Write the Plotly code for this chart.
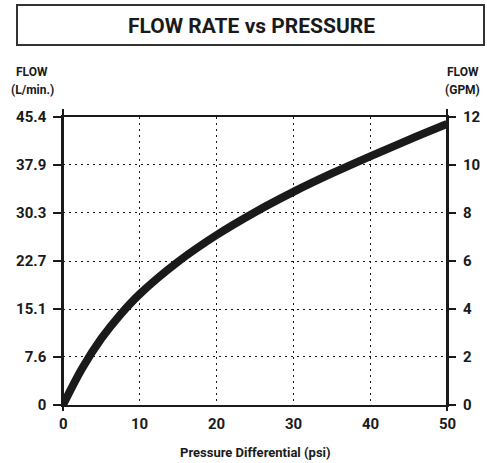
import plotly.graph_objects as go

# Data
psi = [0, 2.5, 5, 7.5, 10, 15, 20, 25, 30, 35, 40, 45, 50]
flow_lpm = [0, 5.8, 10.5, 14.3, 17.5, 22.6, 26.8, 30.4, 33.6, 36.5, 39.2, 41.8, 44.3]
x_ticks = [0, 10, 20, 30, 40, 50]
x_labels = ["0", "10", "20", "30", "40", "50"]
lpm_ticks = [0, 7.6, 15.1, 22.7, 30.3, 37.9, 45.4]
lpm_labels = ["0", "7.6", "15.1", "22.7", "30.3", "37.9", "45.4"]
gpm_ticks = [0, 2, 4, 6, 8, 10, 12]
GPM_MAX = 12

FONT = "Roboto, Liberation Sans, sans-serif"
INK = "#1a1a1a"
BOLD = "bold"

fig = go.Figure()
fig.add_trace(go.Scatter(x=psi, y=flow_lpm, mode="lines",
                         line=dict(color=INK, width=8, shape="spline", smoothing=1.0),
                         showlegend=False, hoverinfo="skip"))
# invisible trace to activate the right axis
fig.add_trace(go.Scatter(x=[0], y=[0], yaxis="y2", mode="markers",
                         marker=dict(opacity=0), showlegend=False, hoverinfo="skip"))

L, R, T, B = 63, 40, 117, 58
W, H = 487, 463
pw, ph = W - L - R, H - T - B

def px(p):
    return (p - L) / pw

def py(q):
    return (H - B - q) / ph

tickfont = dict(size=15, family=FONT, weight=BOLD, color=INK)

fig.update_layout(
    width=W, height=H,
    margin=dict(l=L, r=R, t=T, b=B, autoexpand=False),
    paper_bgcolor="white", plot_bgcolor="white",
    font=dict(family=FONT, color=INK),
    xaxis=dict(range=[0, 50], tickvals=x_ticks, showgrid=True, gridcolor=INK,
               gridwidth=1.3, griddash="2px,4px", zeroline=False,
               showline=True, linecolor=INK, linewidth=1.5, mirror=True,
               ticks="", showticklabels=False),
    yaxis=dict(range=[0, 45.4], tickvals=lpm_ticks, ticktext=lpm_labels,
               showgrid=True, gridcolor=INK, gridwidth=1.3, griddash="2px,4px",
               zeroline=False, showline=True, linecolor=INK, linewidth=1.5,
               mirror=True, ticks="outside", ticklen=8, tickwidth=1.5,
               tickcolor=INK, tickfont=tickfont, ticklabelstandoff=4),
    yaxis2=dict(range=[0, GPM_MAX], tickvals=gpm_ticks, overlaying="y", side="right",
                showgrid=False, zeroline=False, showline=False,
                ticks="", tickfont=tickfont, ticklabelstandoff=15),
)

# x tick labels and axis title
for xv, lab in zip(x_ticks, x_labels):
    fig.add_annotation(xref="x", yref="paper", x=xv, y=py(424), text=lab,
                       showarrow=False, xanchor="center", yanchor="middle",
                       font=tickfont)
fig.add_annotation(xref="paper", yref="paper", x=0.5, y=py(452),
                   text="Pressure Differential (psi)", showarrow=False,
                   xanchor="center", yanchor="middle",
                   font=dict(size=13, family=FONT, weight=BOLD, color=INK))

# right-hand tick marks on the GPM axis
for g in gpm_ticks:
    fig.add_shape(type="line", xref="paper", yref="paper", x0=1, x1=1 + 9 / pw,
                  y0=g / GPM_MAX, y1=g / GPM_MAX, line=dict(color=INK, width=2))

# axis line extensions above / below the box
for xp in (0, 1):
    fig.add_shape(type="line", xref="paper", yref="paper", x0=xp, x1=xp,
                  y0=py(411), y1=py(109), line=dict(color=INK, width=2))

# title box
fig.add_shape(type="rect", xref="paper", yref="paper",
              x0=px(17), x1=px(484), y0=py(45), y1=py(5),
              line=dict(color="#333333", width=2), fillcolor="white")
fig.add_annotation(xref="paper", yref="paper", x=px(251), y=py(26),
                   xanchor="center", yanchor="middle",
                   text="FLOW RATE vs PRESSURE", showarrow=False,
                   font=dict(size=21, family=FONT, weight=BOLD, color=INK))

# axis unit labels
for txt, xpix, ypix in [("FLOW", 32, 72), ("(L/min.)", 32, 90),
                        ("FLOW", 463, 72), ("(GPM)", 462, 90)]:
    fig.add_annotation(xref="paper", yref="paper", x=px(xpix), y=py(ypix),
                       text=txt, showarrow=False, xanchor="center", yanchor="middle",
                       font=dict(size=12, family=FONT, weight=BOLD, color=INK))

fig.write_html("out.html", config={"displayModeBar": False},
               post_script="document.body.style.margin='0px';")
